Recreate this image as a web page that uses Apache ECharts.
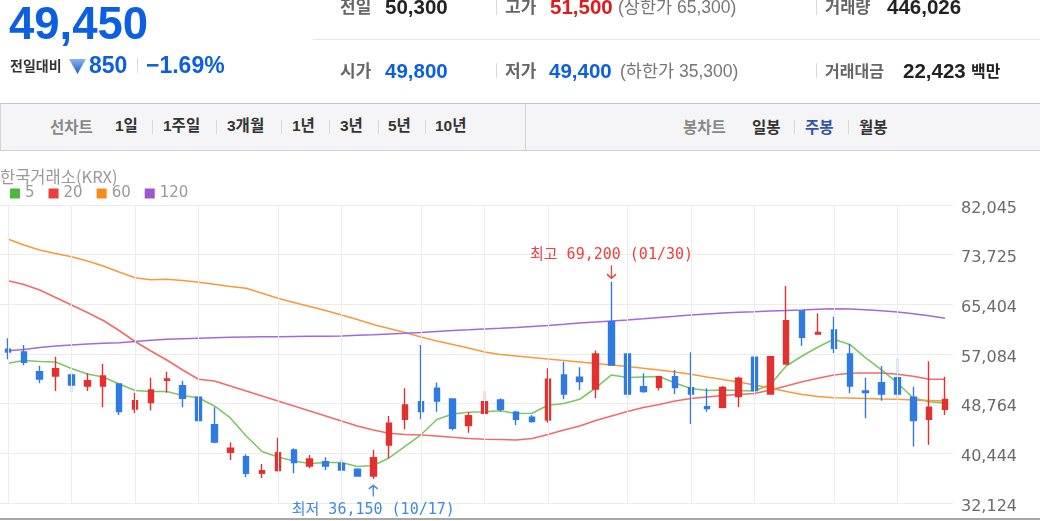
<!DOCTYPE html>
<html><head><meta charset="utf-8">
<script src="https://cdn.jsdelivr.net/npm/echarts@6/dist/echarts.min.js"></script>
<style>
html,body{margin:0;padding:0;background:#fff;}
body{width:1040px;height:521px;overflow:hidden;position:relative;font-family:'Liberation Sans','Noto Sans CJK KR',sans-serif;}
#chart{position:absolute;left:0;top:0;width:1040px;height:521px;}
.t{position:absolute;white-space:nowrap;line-height:30px;height:30px;}
.k{font-family:'Noto Sans CJK KR',sans-serif;}
.n{font-family:'Liberation Sans','Noto Sans CJK KR',sans-serif;}
.b{font-weight:bold;}
.sep{position:absolute;width:1px;background:#d9d9d9;}
.bar{position:absolute;left:0;top:103px;width:1039px;height:46px;background:#f5f5f7;border-top:1px solid #c4c4c4;border-bottom:1px solid #d2d2d2;border-left:1px solid #d2d2d2;}
.lbl{font-size:17px;color:#666;font-weight:bold;}
.num{font-size:20.5px;font-weight:bold;}
.gray{font-size:17.5px;color:#777;}
.bt{font-size:15.5px;font-weight:bold;color:#333;}
</style></head>
<body>
<div id="chart"></div>

<!-- header -->
<div class="t n b" style="left:9px;top:9px;font-size:45.5px;color:#0b5fe0;">49,450</div>
<div class="t k b" style="left:10px;top:50px;font-size:14px;color:#333;">전일대비</div>
<div style="position:absolute;left:69px;top:59px;width:17px;height:15px;clip-path:polygon(0 0,100% 0,50% 100%);background:linear-gradient(#8db3ea,#1d5ccc);"></div>
<div class="t n b" style="left:89px;top:50px;font-size:23px;color:#0b5fe0;">850</div>
<div class="sep" style="left:137px;top:58px;height:15px;"></div>
<div class="t n b" style="left:146px;top:50px;font-size:23px;color:#0b5fe0;">−1.69%</div>

<div style="position:absolute;left:313px;top:39px;width:727px;height:1px;background:#e6e6e6;"></div>

<div class="t k lbl" style="left:340px;top:-9px;">전일</div>
<div class="t n num" style="left:385px;top:-8px;color:#222;">50,300</div>
<div class="sep" style="left:496px;top:0px;height:15px;"></div>
<div class="t k lbl" style="left:505px;top:-9px;">고가</div>
<div class="t n num" style="left:550px;top:-8px;color:#e41818;">51,500</div>
<div class="t n gray" style="left:618px;top:-8px;">(상한가 65,300)</div>
<div class="sep" style="left:816px;top:0px;height:15px;"></div>
<div class="t k lbl" style="left:825px;top:-9px;font-size:16.5px;">거래량</div>
<div class="t n num" style="left:887px;top:-8px;color:#222;">446,026</div>

<div class="t k lbl" style="left:340px;top:55px;">시가</div>
<div class="t n num" style="left:385px;top:56px;color:#0b5fe0;">49,800</div>
<div class="sep" style="left:496px;top:63px;height:15px;"></div>
<div class="t k lbl" style="left:505px;top:55px;">저가</div>
<div class="t n num" style="left:549px;top:56px;color:#0b5fe0;">49,400</div>
<div class="t n gray" style="left:620px;top:56px;">(하한가 35,300)</div>
<div class="sep" style="left:816px;top:63px;height:15px;"></div>
<div class="t k lbl" style="left:825px;top:55px;font-size:16px;">거래대금</div>
<div class="t n num" style="left:903px;top:56px;color:#222;">22,423</div>
<div class="t k b" style="left:971px;top:55px;font-size:16px;color:#222;">백만</div>

<!-- button bar -->
<div class="bar"></div>
<div style="position:absolute;left:525px;top:104px;width:1px;height:46px;background:#d2d2d2;"></div>
<div class="t k bt" style="left:50px;top:111px;color:#888;">선차트</div>
<div class="t n bt" style="left:115px;top:111px;">1일</div>
<div class="sep" style="left:152px;top:120px;height:14px;"></div>
<div class="t n bt" style="left:163px;top:111px;">1주일</div>
<div class="sep" style="left:216px;top:120px;height:14px;"></div>
<div class="t n bt" style="left:227px;top:111px;">3개월</div>
<div class="sep" style="left:281px;top:120px;height:14px;"></div>
<div class="t n bt" style="left:292px;top:111px;">1년</div>
<div class="sep" style="left:329px;top:120px;height:14px;"></div>
<div class="t n bt" style="left:340px;top:111px;">3년</div>
<div class="sep" style="left:378px;top:120px;height:14px;"></div>
<div class="t n bt" style="left:388px;top:111px;">5년</div>
<div class="sep" style="left:425px;top:120px;height:14px;"></div>
<div class="t n bt" style="left:435px;top:111px;">10년</div>

<div class="t k bt" style="left:683px;top:111px;color:#888;">봉차트</div>
<div class="t k bt" style="left:752px;top:111px;">일봉</div>
<div class="sep" style="left:794px;top:120px;height:14px;"></div>
<div class="t k bt" style="left:805px;top:111px;color:#2f54a8;">주봉</div>
<div class="sep" style="left:848px;top:120px;height:14px;"></div>
<div class="t k bt" style="left:859px;top:111px;">월봉</div>

<div style="position:absolute;left:0;top:518px;width:1040px;height:2px;background:#a8a8a8;"></div>

<script>
// ---- data (weekly candles) ----
const dates = ['2024.05.06','2024.05.13','2024.05.20','2024.05.27','2024.06.03','2024.06.10','2024.06.17','2024.06.24','2024.07.01','2024.07.08',
'2024.07.15','2024.07.22','2024.07.29','2024.08.05','2024.08.12','2024.08.19','2024.08.26','2024.09.02','2024.09.09','2024.09.16',
'2024.09.23','2024.09.30','2024.10.07','2024.10.14','2024.10.21','2024.10.28','2024.11.04','2024.11.11','2024.11.18','2024.11.25',
'2024.12.02','2024.12.09','2024.12.16','2024.12.23','2024.12.30','2025.01.06','2025.01.13','2025.01.20','2025.01.27','2025.02.03',
'2025.02.10','2025.02.17','2025.02.24','2025.03.03','2025.03.10','2025.03.17','2025.03.24','2025.03.31','2025.04.07','2025.04.14',
'2025.04.21','2025.04.28','2025.05.05','2025.05.12','2025.05.19','2025.05.26','2025.06.02','2025.06.09','2025.06.16','2025.06.23'];

const opens = [57870,57420,54130,53400,53570,51730,51730,52060,47880,48940,
52680,51780,49830,45250,40620,39890,37100,37550,41010,38330,
39050,38770,37770,36650,41850,46140,49100,51340,49550,45080,
47150,49380,47320,46490,46030,53570,53180,51230,62500,57090,
51620,51500,53290,51450,48270,48160,49940,56530,50390,55410,
64290,60430,61110,57090,50890,52290,53120,49830,46150,47830];

const closes = [57420,55690,52900,54630,51900,52620,53400,47430,49270,51060,
52900,49660,45920,42350,41290,37100,37550,40560,38890,39500,
38330,37660,36650,39720,45480,48550,47430,49220,44640,46750,
49100,47830,46150,45750,52850,50390,52450,57090,55250,50390,
50780,53290,51450,50390,47930,51500,53010,50950,56640,62670,
59880,60710,58040,51730,50610,50390,50390,45920,48160,49450];

const lows = [56190,55190,52170,50890,50670,50890,48160,46870,47150,47600,
50610,48160,45640,42130,39330,36430,36300,37380,37100,37940,
37660,37660,36540,36150,39610,44470,46140,47430,44250,43900,
47150,47420,45200,45580,45580,49500,51060,49660,55250,49660,
50610,50950,50390,45360,47430,47990,48160,50220,50390,55410,
58430,60430,57200,50500,46310,49270,49660,41600,41900,46870];

const highs = [59710,58600,55130,56640,53850,53850,55410,52170,50610,53120,
54130,52620,50050,48160,42240,40280,38660,43070,41290,40170,
39780,39610,37940,41010,46700,51340,58600,52290,49660,47320,
50890,49670,47590,46870,54690,55800,54860,57650,69200,57200,
53850,53400,54410,57370,51340,51730,53290,56640,56750,68480,
64350,63900,63340,58760,53120,55080,56360,51610,55850,53290];

const ma5 = [55530,55999,55831,55747,54659,53737,53235,52062,50974,50806,
50806,50136,49767,48377,46367,43353,40756,39835,39165,38746,
38914,38914,38244,38411,39667,41594,43553,46116,47037,47322,
47422,47590,47121,47155,48494,48796,49500,51393,53570,53151,
53235,53319,52230,51309,50974,51058,50974,50890,51979,55078,
56753,58260,59550,58679,56418,54408,52230,49718,49098,48880];

const ma20 = [69365,68729,67808,66551,65295,64039,62699,61024,59181,57590,
56083,54408,52850,52565,51728,50890,50052,49215,48377,47540,
46702,45865,45027,44358,43804,43603,43520,43353,43135,42934,
42800,42766,42682,42934,43603,44358,45027,45949,46702,47456,
48126,48629,49215,49634,49885,50136,50304,50471,51058,51728,
52447,53017,53570,53855,53905,53905,53687,53352,52850,52850];

const ma60 = [76350,75345,74508,73921,73385,72665,71827,70822,69868,69533,
69599,69399,69097,68779,68394,68092,67255,66417,65714,65044,
64374,63620,62866,62029,61359,60689,59935,59265,58679,58093,
57422,57004,56753,56501,56250,55999,55748,55497,55245,54994,
54692,54408,54073,53687,53235,52816,52398,51895,51393,50806,
50304,49969,49767,49718,49634,49550,49500,49383,49299,49215];

const ma120 = [57640,57841,58176,58427,58595,58762,58879,58980,59181,59382,
59550,59650,59734,59818,59901,59935,59968,59985,60019,60052,
60069,60102,60220,60320,60437,60555,60689,60856,61024,61141,
61275,61392,61526,61694,61861,62062,62280,62447,62615,62782,
62983,63201,63402,63620,63787,63955,64072,64172,64290,64373,
64457,64574,64675,64625,64491,64323,64122,63838,63486,63068];

const yTickLabels = ['32,124','40,444','48,764','57,084','65,404','73,725','82,045'];
const monthStartIdx = [0,4,8,12,17,21,26,30,34,39,43,47,52,56];
const highText = '최고 69,200 (01/30)';
const lowText = '최저 36,150 (10/17)';
const maNames = ['5','20','60','120'];

// ---- chart ----
const yMin = 32124, yMax = 82045, yStep = 8320.17;
const C_UP = '#e2312f', C_DN = '#2f7be2';
const MA_COL = ['#7cc862','#f26a6a','#f89a3a','#a468dc'];
const LEG_COL = ['#4db83f','#ee3d3d','#f88a1c','#9c57d0'];
const maData = [ma5, ma20, ma60, ma120];

const hiVal = Math.max(...highs), hiIdx = highs.indexOf(hiVal);
const loVal = Math.min(...lows), loIdx = lows.indexOf(loVal);
const HI_COL = '#f03e3e', LO_COL = '#3f8ae0';
const arrowDown = 'path://M4.5,0 L4.5,13 M0.8,9 L4.5,13 L8.2,9';
const arrowUp = 'path://M4.5,13 L4.5,0 M0.8,4 L4.5,0 L8.2,4';
const monoFont = "'DejaVu Sans Mono','Noto Sans CJK KR',monospace";

const chart = echarts.init(document.getElementById('chart'));
const series = [
  {
    type: 'line', name: '_vgrid', data: [], z: 1, silent: true,
    markLine: {
      silent: true, symbol: ['none','none'], animation: false,
      label: {show: false},
      lineStyle: {color: '#ececec', width: 1, type: 'solid'},
      data: monthStartIdx.map(i => ({xAxis: dates[i]}))
    }
  }
];
maNames.forEach((n, k) => {
  series.push({
    type: 'line', name: n, data: maData[k], symbol: 'none', showSymbol: false,
    lineStyle: {width: 1.6, color: MA_COL[k]}, itemStyle: {color: MA_COL[k]},
    z: 2, silent: true, animation: false
  });
});
series.push({
  type: 'candlestick', name: 'price', z: 3, barWidth: 6, animation: false, silent: true,
  data: dates.map((d, i) => [opens[i], closes[i], lows[i], highs[i]]),
  itemStyle: {color: C_UP, color0: C_DN, borderColor: C_UP, borderColor0: C_DN, borderWidth: 1.4},
  markPoint: {
    silent: true, animation: false,
    data: [
      {coord: [dates[hiIdx], hiVal], symbol: arrowDown, symbolSize: [9, 13], symbolOffset: [0, -10],
        itemStyle: {color: 'none', borderColor: HI_COL, borderWidth: 1.5}, label: {show: false}},
      {coord: [dates[hiIdx], hiVal], symbol: 'circle', symbolSize: 1, itemStyle: {color: 'rgba(0,0,0,0)'},
        label: {show: true, position: 'inside', offset: [0, -27], formatter: highText, color: HI_COL, fontSize: 15, fontFamily: monoFont}},
      {coord: [dates[loIdx], loVal], symbol: arrowUp, symbolSize: [9, 11], symbolOffset: [0, 12],
        itemStyle: {color: 'none', borderColor: LO_COL, borderWidth: 1.5}, label: {show: false}},
      {coord: [dates[loIdx], loVal], symbol: 'circle', symbolSize: 1, itemStyle: {color: 'rgba(0,0,0,0)'},
        label: {show: true, position: 'inside', offset: [0, 31], formatter: lowText, color: LO_COL, fontSize: 15, fontFamily: monoFont}}
    ]
  }
});

chart.setOption({
  animation: false,
  backgroundColor: 'transparent',
  title: {text: '한국거래소(KRX)', left: 0, top: 168, padding: 0,
    textStyle: {fontSize: 16.5, color: '#999', fontWeight: 'normal', fontFamily: "'Noto Sans CJK KR',sans-serif"}},
  legend: {
    left: 10, top: 186, padding: 0, itemWidth: 10, itemHeight: 10, itemGap: 14, icon: 'rect',
    selectedMode: false,
    textStyle: {fontSize: 15, color: '#999', fontFamily: "'DejaVu Sans',sans-serif"},
    data: maNames.map((n, k) => ({name: n, itemStyle: {color: LEG_COL[k]}}))
  },
  grid: {left: 0, right: 87, top: 205, bottom: 18, containLabel: false},
  xAxis: {
    type: 'category', data: dates, boundaryGap: true,
    axisLine: {show: false}, axisTick: {show: false}, axisLabel: {show: false}, splitLine: {show: false}
  },
  yAxis: {
    type: 'value', position: 'right', min: yMin, max: yMax, interval: yStep, scale: true,
    axisLine: {show: false}, axisTick: {show: false},
    splitLine: {show: true, lineStyle: {color: '#ececec', width: 1}},
    axisLabel: {
      margin: 8, color: '#6a6a6a', fontSize: 16, fontFamily: "'DejaVu Sans',sans-serif",
      formatter: v => '{t|' + (yTickLabels[Math.round((v - yMin) / yStep)] || '') + '}',
      rich: {t: {color: '#6a6a6a', fontSize: 16, fontFamily: "'DejaVu Sans',sans-serif", padding: [7, 0, 0, 0]}}
    }
  },
  series: series
});
</script>
</body></html>
